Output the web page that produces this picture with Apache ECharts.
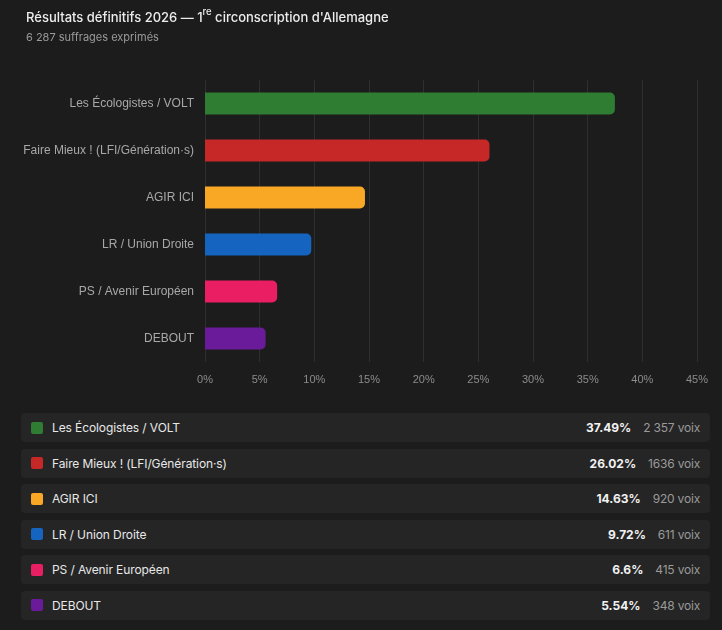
<!DOCTYPE html>
<html lang="fr">
<head>
<meta charset="UTF-8">
<title>Résultats définitifs 2026</title>
<script src="https://cdn.jsdelivr.net/npm/echarts@6/dist/echarts.min.js"></script>
<style>
  html, body { margin: 0; padding: 0; background: #1c1c1c; }
  body { width: 722px; height: 630px; overflow: hidden; font-family: Inter, "Noto Sans", sans-serif; }
  #main { width: 722px; height: 400px; }
  #list { position: absolute; left: 21px; top: 413px; width: 689px; }
  .row { display: flex; align-items: center; height: 29px; margin-bottom: 6.6px;
         background: #252525; border-radius: 4px; padding: 0 10px; box-sizing: border-box; }
  .sw { width: 12px; height: 12px; border-radius: 2px; margin-right: 9px; flex: none; }
  .name { flex: 1; color: #e8e8e8; font-size: 12px; letter-spacing: -0.1px; }
  .pct { color: #f2f2f2; font-size: 12px; font-weight: 700; margin-right: 12px; }
  .voix { color: #9a9a9a; font-size: 12px; letter-spacing: -0.2px; }
</style>
</head>
<body>
<div id="main"></div>
<div id="list"></div>
<script>
// données
var parties = ['Les Écologistes / VOLT', 'Faire Mieux ! (LFI/Génération·s)', 'AGIR ICI', 'LR / Union Droite', 'PS / Avenir Européen', 'DEBOUT'];
var percents = [37.49, 26.02, 14.63, 9.72, 6.6, 5.54];
var voteLabels = ['2 357', '1636', '920', '611', '415', '348'];
var colors = ['#2e7d32', '#c62828', '#f9a825', '#1565c0', '#e91e63', '#6a1b9a'];
var totalLabel = '6 287';

var myChart = echarts.init(document.getElementById('main'));

var option = {
    backgroundColor: 'transparent',
    animation: false,
    title: {
        left: 21,
        top: 2,
        text: '{t|Résultats définitifs 2026 — 1}{s|re}{t| circonscription d\'Allemagne}',
        subtext: totalLabel + ' suffrages exprimés',
        itemGap: 7,
        textStyle: {
            rich: {
                t: { color: '#ececec', fontSize: 13, fontFamily: 'Inter', fontWeight: 500, verticalAlign: 'bottom', lineHeight: 18 },
                s: { color: '#ececec', fontSize: 9.5, fontFamily: 'Inter', fontWeight: 500, verticalAlign: 'top', lineHeight: 18, padding: [0, 0, 6, 0] }
            }
        },
        subtextStyle: { color: '#9a9a9a', fontSize: 11, fontFamily: 'Inter' }
    },
    grid: { left: 205, right: 25, top: 80, height: 282, containLabel: false },
    xAxis: {
        type: 'value',
        min: 0,
        max: 45,
        interval: 5,
        axisLine: { show: false },
        axisTick: { show: false },
        splitLine: { show: true, lineStyle: { color: '#2f2f2f', width: 1 } },
        axisLabel: {
            color: '#8c8c8c',
            fontSize: 11,
            fontFamily: 'Liberation Sans',
            margin: 12,
            formatter: function (v) { return v + '%'; }
        }
    },
    yAxis: {
        type: 'category',
        inverse: true,
        data: parties,
        axisLine: { show: false },
        axisTick: { show: false },
        axisLabel: { color: '#a8a8a8', fontSize: 12, fontFamily: 'Liberation Sans', margin: 11 }
    },
    series: [{
        type: 'bar',
        barWidth: 22,
        data: percents.map(function (v, i) {
            return { value: v, itemStyle: { color: colors[i], borderRadius: [0, 5, 5, 0] } };
        })
    }]
};

myChart.setOption(option);

// tableau des résultats
var list = document.getElementById('list');
parties.forEach(function (name, i) {
    var row = document.createElement('div');
    row.className = 'row';
    row.innerHTML = '<span class="sw" style="background:' + colors[i] + '"></span>' +
        '<span class="name">' + name + '</span>' +
        '<span class="pct">' + percents[i] + '%</span>' +
        '<span class="voix">' + voteLabels[i] + ' voix</span>';
    list.appendChild(row);
});
</script>
</body>
</html>
